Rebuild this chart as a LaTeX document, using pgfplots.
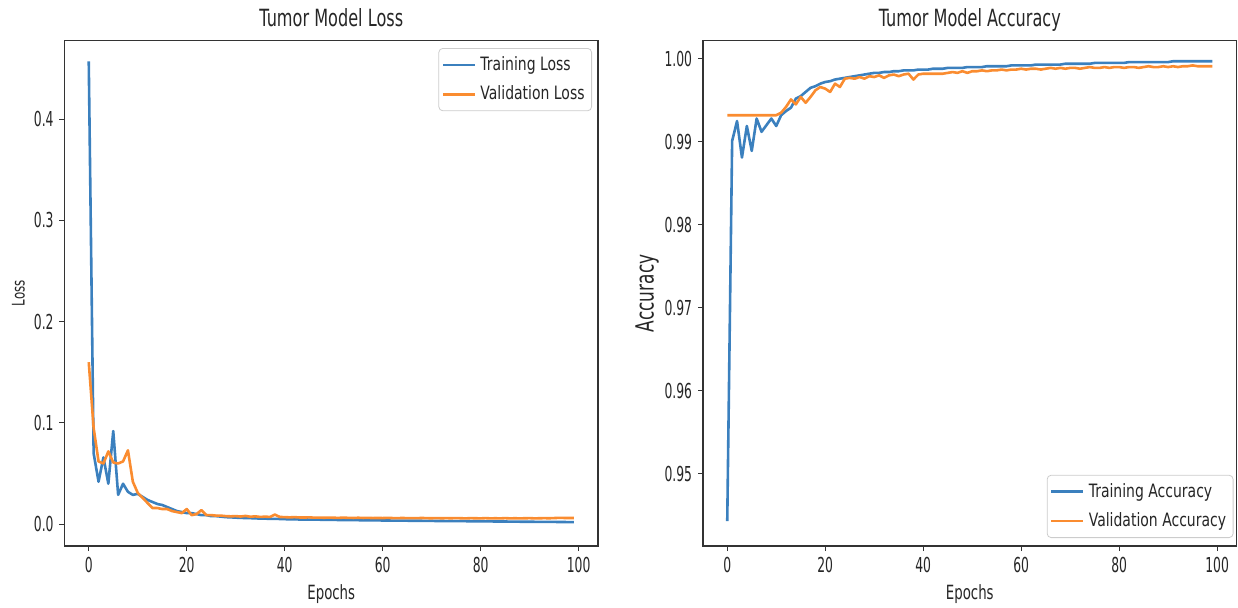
\documentclass[border=0pt]{standalone}
\usepackage{fontspec}
\setmainfont{DejaVu Sans}[FakeStretch=0.68]
\newfontfamily\tickfont{DejaVu Sans}[FakeStretch=0.6]
\newfontfamily\labfont{DejaVu Sans}[FakeStretch=0.68]
\newfontfamily\legfont{DejaVu Sans}[FakeStretch=0.76]
\usepackage{pgfplots}
\pgfplotsset{compat=1.18}

\definecolor{mblue}{HTML}{3B80BE}
\definecolor{morange}{HTML}{FA8C30}

% shared look of both panels
\pgfplotsset{
  every axis title shift=0pt,
  mplstyle/.style={
    scale only axis,
    width=266.75pt, height=252.75pt,
    xmin=-4.95, xmax=103.95,
    xtick={0,20,40,60,80,100},
    axis line style={black!80, line width=0.6pt},
    tick style={black!80, line width=0.5pt},
    major tick length=2.5pt,
    tick align=outside,
    xtick pos=bottom, ytick pos=left,
    /pgf/number format/assume math mode=true,
    ticklabel style={font=\tickfont\fontsize{10.3}{12}\selectfont, text=black!85},
    xticklabel style={anchor=base, yshift=-10.5pt, inner sep=0pt},
    yticklabel style={anchor=east, xshift=-2.75pt, inner sep=0pt},
    title style={at={(axis description cs:0.5,1.0273)}, anchor=base, inner sep=0pt,
      font=\labfont\fontsize{11.85}{14}\selectfont, text=black!85},
    xlabel style={at={(axis description cs:0.5,-0.1068)}, anchor=base, inner sep=0pt,
      font=\labfont\fontsize{9.8}{12}\selectfont, text=black!85},
    legend cell align=left,
    legend image code/.code={\draw[#1] (0pt,0pt) -- (16pt,0pt);},
    legend style={draw=black!20, rounded corners=2pt, fill=white,
      font=\legfont\fontsize{9.2}{10.5}\selectfont, text=black!85,
      inner xsep=1.5pt, inner ysep=2pt, row sep=2.2pt},
    every axis plot/.append style={line width=1.3pt, line join=round},
  }
}

\begin{document}
\begin{tikzpicture}
\path[use as bounding box] (-32.25pt,-30.5pt) rectangle (586.75pt,273pt);

\begin{axis}[
  mplstyle,
  at={(0pt,0pt)}, anchor=south west,
  title={Tumor Model Loss},
  xlabel={Epochs},
  ylabel={Loss},
  ylabel style={at={(axis description cs:-0.0862,0.5)}, anchor=center, inner sep=0pt,
    font=\labfont\fontsize{8.7}{10}\selectfont, text=black!85},
  ymin=-0.0215, ymax=0.4777,
  ytick={0,0.1,0.2,0.3,0.4},
  yticklabel style={/pgf/number format/fixed, /pgf/number format/fixed zerofill,
    /pgf/number format/precision=1},
  legend style={at={(axis description cs:1,1)}, anchor=north east, xshift=-3pt, yshift=-3.75pt},
]
\addplot[mblue] coordinates {
(0,0.457)(1,0.070)(2,0.042)(3,0.066)(4,0.040)(5,0.092)(6,0.029)(7,0.040)(8,0.032)(9,0.029)
(10,0.030)(11,0.027)(12,0.024)(13,0.022)(14,0.020)(15,0.019)(16,0.017)(17,0.015)(18,0.013)(19,0.012)
(20,0.011)(21,0.011)(22,0.010)(23,0.009)(24,0.009)(25,0.008)(26,0.008)(27,0.0075)(28,0.0070)(29,0.0068)
(30,0.0065)(31,0.0063)(32,0.0061)(33,0.0060)(34,0.0058)(35,0.0056)(36,0.0055)(37,0.0054)(38,0.0053)(39,0.0052)
(40,0.0050)(41,0.0049)(42,0.0048)(43,0.0047)(44,0.0047)(45,0.0046)(46,0.0045)(47,0.0045)(48,0.0044)(49,0.0043)
(50,0.0043)(51,0.0042)(52,0.0041)(53,0.0041)(54,0.0040)(55,0.0040)(56,0.0039)(57,0.0039)(58,0.0038)(59,0.0038)
(60,0.0037)(61,0.0037)(62,0.0036)(63,0.0036)(64,0.0035)(65,0.0035)(66,0.0034)(67,0.0034)(68,0.0034)(69,0.0033)
(70,0.0033)(71,0.0032)(72,0.0032)(73,0.0031)(74,0.0031)(75,0.0031)(76,0.0030)(77,0.0030)(78,0.0029)(79,0.0029)
(80,0.0029)(81,0.0028)(82,0.0028)(83,0.0027)(84,0.0027)(85,0.0027)(86,0.0026)(87,0.0026)(88,0.0025)(89,0.0025)
(90,0.0025)(91,0.0024)(92,0.0024)(93,0.0023)(94,0.0023)(95,0.0023)(96,0.0022)(97,0.0022)(98,0.0021)(99,0.0021)
};
\addlegendentry{Training Loss}
\addplot[morange] coordinates {
(0,0.160)(1,0.095)(2,0.062)(3,0.060)(4,0.072)(5,0.061)(6,0.060)(7,0.062)(8,0.073)(9,0.042)
(10,0.031)(11,0.026)(12,0.021)(13,0.016)(14,0.016)(15,0.015)(16,0.015)(17,0.013)(18,0.012)(19,0.011)
(20,0.015)(21,0.009)(22,0.010)(23,0.014)(24,0.009)(25,0.009)(26,0.0085)(27,0.0085)(28,0.0080)(29,0.0078)
(30,0.0080)(31,0.0076)(32,0.0082)(33,0.0074)(34,0.0078)(35,0.0072)(36,0.0075)(37,0.0072)(38,0.0095)(39,0.0072)
(40,0.0070)(41,0.0068)(42,0.0070)(43,0.0067)(44,0.0066)(45,0.0068)(46,0.0065)(47,0.0066)(48,0.0064)(49,0.0066)
(50,0.0064)(51,0.0063)(52,0.0065)(53,0.0063)(54,0.0062)(55,0.0064)(56,0.0062)(57,0.0063)(58,0.0061)(59,0.0062)
(60,0.0061)(61,0.0063)(62,0.0061)(63,0.0060)(64,0.0062)(65,0.0060)(66,0.0061)(67,0.0060)(68,0.0062)(69,0.0060)
(70,0.0059)(71,0.0061)(72,0.0059)(73,0.0060)(74,0.0059)(75,0.0061)(76,0.0059)(77,0.0058)(78,0.0060)(79,0.0059)
(80,0.0058)(81,0.0060)(82,0.0058)(83,0.0059)(84,0.0058)(85,0.0060)(86,0.0058)(87,0.0059)(88,0.0058)(89,0.0059)
(90,0.0060)(91,0.0058)(92,0.0059)(93,0.0060)(94,0.0059)(95,0.0061)(96,0.0063)(97,0.0062)(98,0.0062)(99,0.0062)
};
\addlegendentry{Validation Loss}
\end{axis}

\begin{axis}[
  mplstyle,
  at={(319.25pt,0pt)}, anchor=south west,
  title={Tumor Model Accuracy},
  xlabel={Epochs},
  ylabel={Accuracy},
  ylabel style={at={(axis description cs:-0.105,0.5)}, anchor=center, inner sep=0pt,
    font=\labfont\fontsize{12.5}{14}\selectfont, text=black!85},
  ymin=0.9413, ymax=1.0022,
  ytick={0.95,0.96,0.97,0.98,0.99,1.00},
  yticklabel style={/pgf/number format/fixed, /pgf/number format/fixed zerofill,
    /pgf/number format/precision=2},
  legend style={at={(axis description cs:1,0)}, anchor=south east, xshift=-1.5pt, yshift=4pt},
]
\addplot[mblue] coordinates {
(0,0.9443)(1,0.9901)(2,0.9925)(3,0.9881)(4,0.9919)(5,0.9889)(6,0.9928)(7,0.9912)(8,0.9920)(9,0.9928)
(10,0.9919)(11,0.9932)(12,0.9937)(13,0.9941)(14,0.9952)(15,0.9955)(16,0.9960)(17,0.9965)(18,0.9967)(19,0.9970)
(20,0.9972)(21,0.9973)(22,0.9975)(23,0.9976)(24,0.9977)(25,0.9978)(26,0.9979)(27,0.9980)(28,0.9981)(29,0.9982)
(30,0.9983)(31,0.9983)(32,0.9984)(33,0.9984)(34,0.9985)(35,0.9985)(36,0.9986)(37,0.9986)(38,0.9986)(39,0.9987)
(40,0.9987)(41,0.9987)(42,0.9988)(43,0.9988)(44,0.9988)(45,0.9989)(46,0.9989)(47,0.9989)(48,0.9989)(49,0.9990)
(50,0.9990)(51,0.9990)(52,0.9990)(53,0.9991)(54,0.9991)(55,0.9991)(56,0.9991)(57,0.9991)(58,0.9992)(59,0.9992)
(60,0.9992)(61,0.9992)(62,0.9992)(63,0.9993)(64,0.9993)(65,0.9993)(66,0.9993)(67,0.9993)(68,0.9993)(69,0.9994)
(70,0.9994)(71,0.9994)(72,0.9994)(73,0.9994)(74,0.9994)(75,0.9995)(76,0.9995)(77,0.9995)(78,0.9995)(79,0.9995)
(80,0.9995)(81,0.9995)(82,0.9996)(83,0.9996)(84,0.9996)(85,0.9996)(86,0.9996)(87,0.9996)(88,0.9996)(89,0.9996)
(90,0.9996)(91,0.9997)(92,0.9997)(93,0.9997)(94,0.9997)(95,0.9997)(96,0.9997)(97,0.9997)(98,0.9997)(99,0.9997)
};
\addlegendentry{Training Accuracy}
\addplot[morange] coordinates {
(0,0.9932)(1,0.9932)(2,0.9932)(3,0.9932)(4,0.9932)(5,0.9932)(6,0.9932)(7,0.9932)(8,0.9932)(9,0.9932)
(10,0.9932)(11,0.9935)(12,0.9942)(13,0.9951)(14,0.9945)(15,0.9954)(16,0.9947)(17,0.9954)(18,0.9962)(19,0.9966)
(20,0.9964)(21,0.9960)(22,0.9970)(23,0.9966)(24,0.9976)(25,0.9977)(26,0.9976)(27,0.9978)(28,0.9976)(29,0.9979)
(30,0.9978)(31,0.9980)(32,0.9977)(33,0.9980)(34,0.9981)(35,0.9979)(36,0.9981)(37,0.9982)(38,0.9975)(39,0.9981)
(40,0.9982)(41,0.9982)(42,0.9982)(43,0.9982)(44,0.9982)(45,0.9983)(46,0.9984)(47,0.9983)(48,0.9985)(49,0.9983)
(50,0.9985)(51,0.9985)(52,0.9986)(53,0.9985)(54,0.9986)(55,0.9986)(56,0.9987)(57,0.9986)(58,0.9987)(59,0.9987)
(60,0.9988)(61,0.9987)(62,0.9988)(63,0.9988)(64,0.9987)(65,0.9988)(66,0.9989)(67,0.9988)(68,0.9989)(69,0.9988)
(70,0.9989)(71,0.9989)(72,0.9988)(73,0.9989)(74,0.9990)(75,0.9989)(76,0.9989)(77,0.9990)(78,0.9989)(79,0.9990)
(80,0.9990)(81,0.9989)(82,0.9990)(83,0.9990)(84,0.9989)(85,0.9990)(86,0.9991)(87,0.9990)(88,0.9990)(89,0.9991)
(90,0.9990)(91,0.9991)(92,0.9990)(93,0.9991)(94,0.9991)(95,0.9992)(96,0.9991)(97,0.9991)(98,0.9991)(99,0.9991)
};
\addlegendentry{Validation Accuracy}
\end{axis}
\end{tikzpicture}
\end{document}
